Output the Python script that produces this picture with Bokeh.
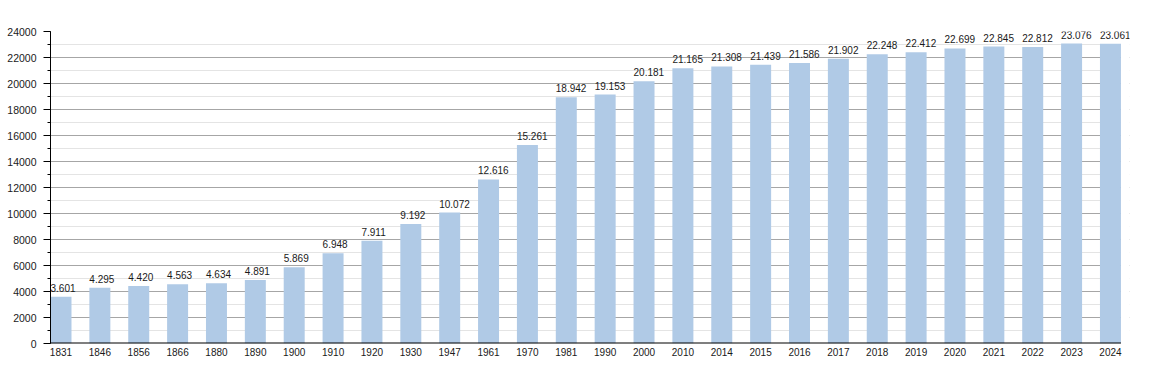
from bokeh.plotting import figure
from bokeh.models import Range1d, SingleIntervalTicker, FixedTicker, Label, ColumnDataSource
from bokeh.embed import file_html
from bokeh.resources import INLINE

years = [1831, 1846, 1856, 1866, 1880, 1890, 1900, 1910, 1920, 1930, 1947, 1961, 1970,
         1981, 1990, 2000, 2010, 2014, 2015, 2016, 2017, 2018, 2019, 2020, 2021, 2022,
         2023, 2024]
values = [3601, 4295, 4420, 4563, 4634, 4891, 5869, 6948, 7911, 9192, 10072, 12616, 15261,
          18942, 19153, 20181, 21165, 21308, 21439, 21586, 21902, 22248, 22412, 22699, 22845,
          22812, 23076, 23061]
labels = [f"{v:,}".replace(",", ".") for v in values]

n = len(years)
half = 0.27
extra = 0.22  # room on the right for the last value label
idx = list(range(n))
src = ColumnDataSource(dict(x=idx, top=values, label=labels))

FONT = "Liberation Sans"
x_end_bars = n - 1 + half

p = figure(width=1142, height=365, output_backend="svg", toolbar_location=None,
           x_range=Range1d(-half, x_end_bars + extra), y_range=Range1d(0, 24000),
           min_border_left=50, min_border_top=31, min_border_bottom=22, min_border_right=13)
p.outline_line_color = None
p.background_fill_color = "white"

# mask the gridlines in the extra margin on the right
p.quad(left=[x_end_bars], right=[x_end_bars + extra], bottom=[0], top=[24000],
       fill_color="white", line_color=None)

p.vbar(x='x', top='top', bottom=0, width=2 * half, source=src,
       fill_color="#b0cae6", line_color=None)

# baseline ending at the last bar
p.segment(x0=[-half], x1=[x_end_bars], y0=[0], y1=[0], line_color="black", line_width=2)

# value labels, left-aligned with the bar's left edge
for xi, v, t in zip(idx, values, labels):
    p.add_layout(Label(x=xi - half, y=v, text=t, text_align='left', text_baseline='bottom',
                       y_offset=5, x_offset=0, text_font=FONT, text_font_size="10px",
                       text_color="#1a1a1a"))

p.xgrid.visible = False
p.yaxis.ticker = SingleIntervalTicker(interval=2000, num_minor_ticks=2)
p.ygrid.ticker = p.yaxis.ticker
p.ygrid.grid_line_color = "#a6a6a6"
p.ygrid.minor_grid_line_color = "#e4e4e4"

p.yaxis.axis_line_color = "black"
p.yaxis.major_tick_out = 7
p.yaxis.major_tick_in = 0
p.yaxis.minor_tick_out = 3
p.yaxis.minor_tick_in = 0
p.yaxis.major_label_standoff = 7
p.yaxis.major_label_text_font = FONT
p.yaxis.major_label_text_font_size = "10.5px"
p.yaxis.major_label_text_color = "#1a1a1a"

p.xaxis.ticker = FixedTicker(ticks=idx)
p.xaxis.major_label_overrides = {i: str(y) for i, y in zip(idx, years)}
p.xaxis.axis_line_color = None
p.xaxis.major_tick_out = 0
p.xaxis.major_tick_in = 0
p.xaxis.minor_tick_out = 0
p.xaxis.minor_tick_in = 0
p.xaxis.major_label_standoff = 4
p.xaxis.major_label_text_font = FONT
p.xaxis.major_label_text_font_size = "10px"
p.xaxis.major_label_text_color = "#1a1a1a"

open("out.html", "w").write(file_html(p, INLINE))
